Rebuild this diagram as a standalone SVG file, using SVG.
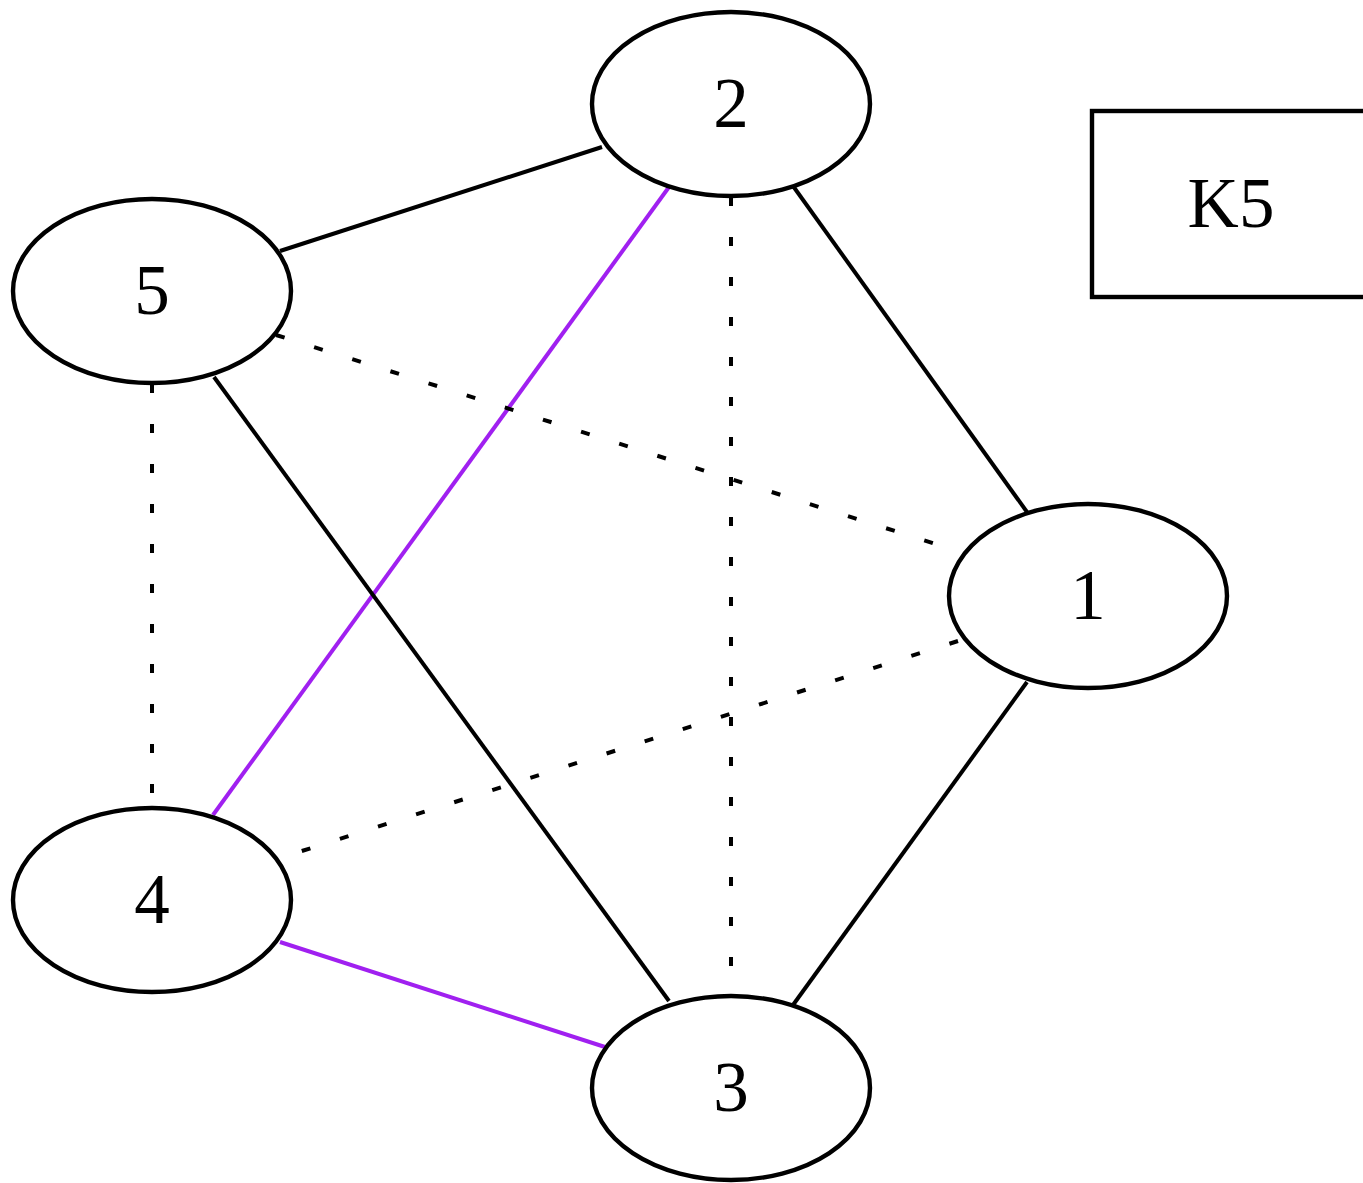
<svg xmlns="http://www.w3.org/2000/svg" width="1363" height="1183" viewBox="0 0 1363 1183">
<style>
.n{fill:none;stroke:#000;stroke-width:4.4}
.t{font-family:"Liberation Serif","Times New Roman",serif;font-size:71px;text-anchor:middle;fill:#000}
.e{stroke:#000;stroke-width:4;fill:none}
.d{stroke-dasharray:9,31}
.p{stroke:#a020f0}
</style>
<rect width="1363" height="1183" fill="#fff"/>
<g id="edges">
<line class="e" x1="602" y1="147" x2="280" y2="251"/>
<line class="e p" x1="669" y1="187" x2="213" y2="815"/>
<line class="e d" x1="731" y1="197" x2="731" y2="995"/>
<line class="e" x1="793" y1="186" x2="1027" y2="512"/>
<line class="e d" x1="276" y1="335" x2="958" y2="551"/>
<line class="e d" x1="152" y1="384" x2="152" y2="808"/>
<line class="e" x1="214" y1="377" x2="669" y2="1001"/>
<line class="e d" x1="958" y1="641" x2="280" y2="858"/>
<line class="e" x1="1027" y1="682" x2="793" y2="1005"/>
<line class="e p" x1="280" y1="942" x2="605" y2="1047"/>
</g>
<g id="node2"><ellipse class="n" cx="731" cy="104" rx="139" ry="92"/><text class="t" x="731" y="127">2</text></g>
<g id="node5"><ellipse class="n" cx="152" cy="291" rx="139" ry="92"/><text class="t" x="152" y="314">5</text></g>
<g id="node1"><ellipse class="n" cx="1088" cy="596" rx="139" ry="92"/><text class="t" x="1088" y="619">1</text></g>
<g id="node4"><ellipse class="n" cx="152" cy="900" rx="139" ry="92"/><text class="t" x="152" y="923">4</text></g>
<g id="node3"><ellipse class="n" cx="731" cy="1088" rx="139" ry="92"/><text class="t" x="731" y="1111">3</text></g>
<g id="label"><rect class="n" x="1092" y="111" width="280" height="186"/><text class="t" x="1231" y="227">K5</text></g>
</svg>
